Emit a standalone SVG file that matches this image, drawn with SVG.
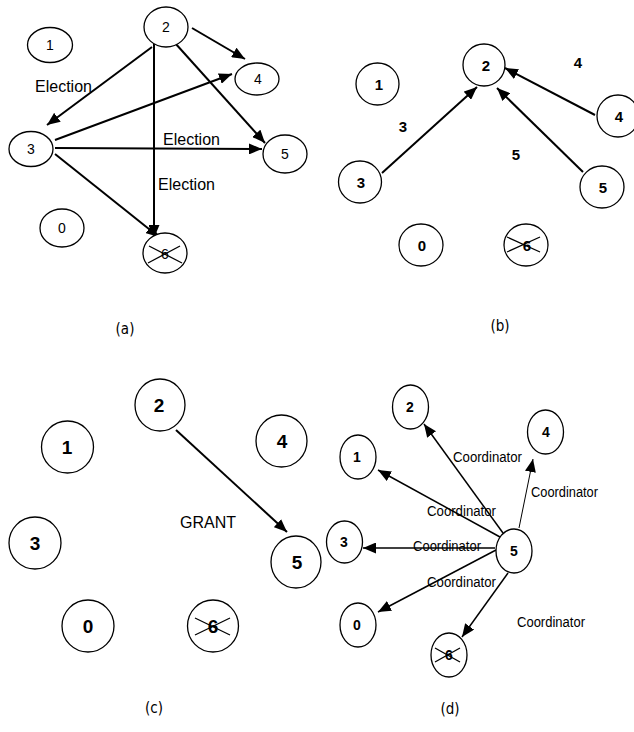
<svg xmlns="http://www.w3.org/2000/svg" width="634" height="732" viewBox="0 0 634 732">
<defs>
<marker id="ah" markerUnits="userSpaceOnUse" markerWidth="13" markerHeight="11" refX="13" refY="5.5" orient="auto"><path d="M0,0 L13,5.5 L0,11 z" fill="#000"/></marker>
<style>
.n{fill:#fff;stroke:#000;stroke-width:1.3}
.t{font-family:"Liberation Sans",Arial,sans-serif;font-size:14px;text-anchor:middle;fill:#000}
.b{font-weight:bold;font-size:15px}
.c{font-weight:bold;font-size:19px}
.d{font-weight:bold;font-size:14px}
.lbl{font-family:"Liberation Sans",Arial,sans-serif;font-size:16px;fill:#000}
.cap{font-family:"DejaVu Sans Condensed","Liberation Sans",sans-serif;font-size:15px;text-anchor:middle;fill:#000}
.e{stroke:#000;stroke-width:2;fill:none;marker-end:url(#ah)}
.e1{stroke:#000;stroke-width:1.5;fill:none;marker-end:url(#ah)}
.x{stroke:#000;stroke-width:1.3}
</style>
</defs>

<!-- Panel (a) -->
<g id="connectors-a">
<line class="e" x1="192" y1="28" x2="245" y2="59"/>
<line class="e" x1="152" y1="47" x2="47" y2="125"/>
<line class="e" x1="154" y1="43" x2="154" y2="238"/>
<line class="e" x1="175" y1="43" x2="265" y2="143"/>
<line class="e" x1="55" y1="140" x2="232" y2="74"/>
<line class="e" x1="55" y1="148" x2="262" y2="149"/>
<line class="e" x1="55" y1="154" x2="159" y2="237"/>
<text class="lbl" x="35" y="92">Election</text>
<text class="lbl" x="163" y="145">Election</text>
<text class="lbl" x="158" y="190">Election</text>
</g>
<g id="a-n1"><ellipse class="n" cx="50" cy="45" rx="22.5" ry="17.5"/><text class="t" x="50" y="50">1</text></g>
<g id="a-n2"><ellipse class="n" cx="166" cy="27" rx="22" ry="20"/><text class="t" x="166" y="32">2</text></g>
<g id="a-n4"><ellipse class="n" cx="257" cy="79" rx="22" ry="16"/><text class="t" x="258" y="84">4</text></g>
<g id="a-n3"><ellipse class="n" cx="31" cy="149" rx="22" ry="17.5"/><text class="t" x="31" y="154">3</text></g>
<g id="a-n5"><ellipse class="n" cx="285" cy="154" rx="22" ry="19"/><text class="t" x="285" y="159">5</text></g>
<g id="a-n0"><ellipse class="n" cx="62" cy="228" rx="22" ry="19"/><text class="t" x="62" y="233">0</text></g>
<g id="a-n6"><ellipse class="n" cx="165" cy="253" rx="22" ry="20"/><text class="t" x="165" y="259">6</text><line class="x" x1="149" y1="246" x2="182" y2="263"/><line class="x" x1="148" y1="263" x2="180" y2="246"/></g>
<text class="cap" x="125" y="334">(a)</text>

<!-- Panel (b) -->
<g id="connectors-b">
<line class="e" x1="382" y1="173" x2="477" y2="87"/>
<line class="e" x1="595" y1="115" x2="505" y2="68"/>
<line class="e" x1="583" y1="172" x2="497" y2="88"/>
<text class="t b" x="578" y="68">4</text>
<text class="t b" x="403" y="132">3</text>
<text class="t b" x="516" y="160">5</text>
</g>
<g id="b-n2"><ellipse class="n" cx="484" cy="65" rx="21" ry="21"/><text class="t b" x="486" y="71">2</text></g>
<g id="b-n1"><ellipse class="n" cx="377.5" cy="84" rx="21.5" ry="21"/><text class="t b" x="379" y="90">1</text></g>
<g id="b-n4"><ellipse class="n" cx="618" cy="116" rx="21" ry="21"/><text class="t b" x="619" y="122">4</text></g>
<g id="b-n3"><ellipse class="n" cx="360" cy="182" rx="21.5" ry="21"/><text class="t b" x="361" y="188">3</text></g>
<g id="b-n5"><ellipse class="n" cx="602" cy="187" rx="22" ry="21"/><text class="t b" x="603" y="193">5</text></g>
<g id="b-n0"><ellipse class="n" cx="421" cy="245" rx="22" ry="21"/><text class="t b" x="422" y="251">0</text></g>
<g id="b-n6"><ellipse class="n" cx="526" cy="245" rx="22" ry="21"/><text class="t b" x="527" y="251">6</text><line class="x" x1="507" y1="237" x2="540" y2="252"/><line class="x" x1="507" y1="252" x2="540" y2="237"/></g>
<text class="cap" x="500" y="331">(b)</text>

<!-- Panel (c) -->
<g id="connectors-c">
<line class="e" x1="176" y1="430" x2="287" y2="532"/>
<text class="lbl" x="180" y="528" font-size="17">GRANT</text>
</g>
<g id="c-n2"><ellipse class="n" cx="160" cy="405" rx="25" ry="26"/><text class="t c" x="159" y="412">2</text></g>
<g id="c-n1"><ellipse class="n" cx="67.5" cy="447" rx="26" ry="26"/><text class="t c" x="67" y="454">1</text></g>
<g id="c-n4"><ellipse class="n" cx="281.5" cy="441" rx="25.5" ry="26"/><text class="t c" x="282" y="448">4</text></g>
<g id="c-n3"><ellipse class="n" cx="35" cy="543" rx="26" ry="26"/><text class="t c" x="35" y="550">3</text></g>
<g id="c-n5"><ellipse class="n" cx="296" cy="562" rx="25" ry="26"/><text class="t c" x="297" y="569">5</text></g>
<g id="c-n0"><ellipse class="n" cx="88" cy="626" rx="26" ry="26"/><text class="t c" x="88" y="633">0</text></g>
<g id="c-n6"><ellipse class="n" cx="213" cy="626" rx="25.5" ry="26"/><text class="t c" x="213" y="633">6</text><line class="x" x1="195" y1="618" x2="230" y2="635"/><line class="x" x1="195" y1="635" x2="230" y2="618"/></g>
<text class="cap" x="154" y="713">(c)</text>

<!-- Panel (d) -->
<g id="connectors-d">
<line class="e1" x1="503" y1="533" x2="424" y2="424"/>
<line class="e1" x1="500" y1="537" x2="378" y2="470"/>
<line class="e1" x1="495" y1="548" x2="363" y2="548"/>
<line class="e1" x1="496" y1="550" x2="378" y2="612"/>
<line class="e1" x1="508" y1="573" x2="462" y2="637"/>
<line stroke="#000" stroke-width="1" fill="none" marker-end="url(#ah)" x1="519" y1="528" x2="533" y2="459"/>
<g font-family="'Liberation Sans',Arial,sans-serif" font-size="14" fill="#000">
<text x="453" y="462" textLength="69" lengthAdjust="spacingAndGlyphs">Coordinator</text>
<text x="531" y="497" textLength="67" lengthAdjust="spacingAndGlyphs">Coordinator</text>
<text x="427" y="516" textLength="69" lengthAdjust="spacingAndGlyphs">Coordinator</text>
<text x="413" y="551" textLength="68" lengthAdjust="spacingAndGlyphs">Coordinator</text>
<text x="427" y="587" textLength="69" lengthAdjust="spacingAndGlyphs">Coordinator</text>
<text x="517" y="627" textLength="68" lengthAdjust="spacingAndGlyphs">Coordinator</text>
</g>
</g>
<g id="d-n2"><ellipse class="n" cx="410.5" cy="407" rx="18" ry="22"/><text class="t d" x="410" y="412">2</text></g>
<g id="d-n4"><ellipse class="n" cx="545.5" cy="432" rx="18" ry="22"/><text class="t d" x="546" y="437">4</text></g>
<g id="d-n1"><ellipse class="n" cx="358" cy="457" rx="18" ry="22"/><text class="t d" x="357" y="462">1</text></g>
<g id="d-n3"><ellipse class="n" cx="344.5" cy="542" rx="18" ry="21"/><text class="t d" x="344" y="547">3</text></g>
<g id="d-n5"><ellipse class="n" cx="514" cy="551" rx="18" ry="22"/><text class="t d" x="514" y="556">5</text></g>
<g id="d-n0"><ellipse class="n" cx="358" cy="625" rx="18" ry="22"/><text class="t d" x="357" y="630">0</text></g>
<g id="d-n6"><ellipse class="n" cx="449" cy="655" rx="18" ry="22"/><text class="t d" x="449" y="660">6</text><line class="x" x1="435" y1="648" x2="460" y2="662"/><line class="x" x1="435" y1="662" x2="460" y2="648"/></g>
<text class="cap" x="450" y="714">(d)</text>
</svg>
